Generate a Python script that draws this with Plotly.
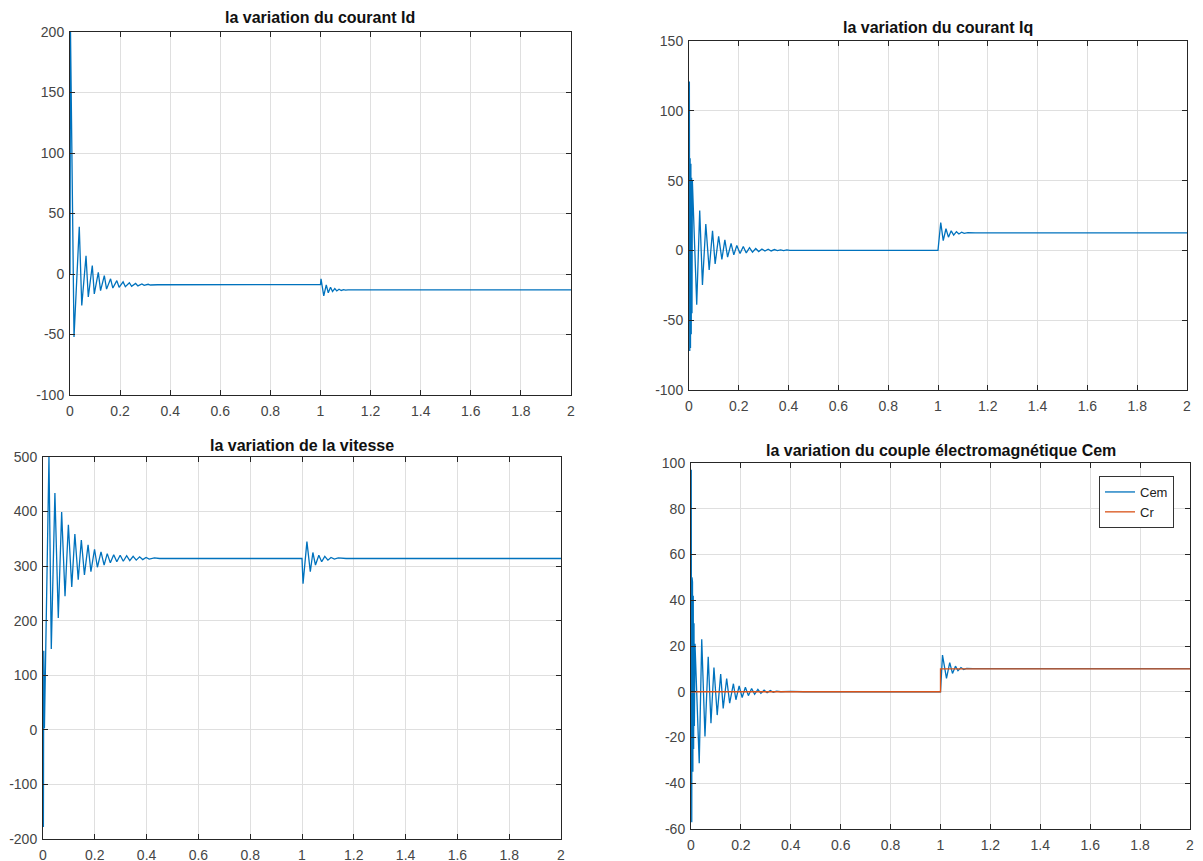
import plotly.graph_objects as go

# ---------------- data ----------------
# Id current
t_id = [0, 0.002, 0.016, 0.037, 0.047, 0.064, 0.073, 0.089, 0.097, 0.113, 0.122,
        0.137, 0.146, 0.162, 0.171, 0.187, 0.196, 0.212, 0.221, 0.237, 0.246,
        0.262, 0.271, 0.287, 0.296, 0.312, 0.321, 0.337, 0.35, 1.0, 1.002,
        1.013, 1.023, 1.031, 1.040, 1.048, 1.057, 1.065, 1.074, 1.083, 1.092,
        1.10, 1.11, 1.15, 2.0]
v_id = [0, 200, -52, 39, -26, 15, -19, 7, -16.5, 1.4, -13.7,
        -1.4, -12.5, -4, -11.6, -5.5, -11, -6.5, -10.5, -7.2, -10.2,
        -7.8, -9.8, -8.2, -9.4, -8.5, -9.1, -8.7, -8.9, -8.8, -4,
        -18, -9, -15.5, -11, -14.5, -12, -14, -12.6, -13.6, -12.9,
        -13.4, -13.1, -13.2, -13.2]

# Iq current
t_iq = [0, 0.0015, 0.003, 0.0045, 0.006, 0.0075, 0.009, 0.0105, 0.012, 0.0135,
        0.031, 0.043, 0.054, 0.0675, 0.081, 0.0945, 0.105, 0.119, 0.132, 0.144,
        0.155, 0.169, 0.18, 0.192, 0.205, 0.218, 0.23, 0.243, 0.255, 0.268,
        0.28, 0.293, 0.305, 0.318, 0.33, 0.343, 0.355, 0.368, 0.38, 0.393,
        0.405, 0.43, 0.45, 1.0, 1.011, 1.021, 1.032, 1.042, 1.053, 1.063,
        1.074, 1.084, 1.095, 1.105, 1.12, 1.15, 2.0]
v_iq = [0, 121, -72, 66, -70, 62, -60, 52, -45, 50,
        -39, 28.5, -24.7, 18.8, -14, 14, -9.7, 10, -6.4, 7.5,
        -4.8, 5, -3.2, 3.5, -2.2, 2.8, -1.8, 2, -1.2, 1.4,
        -0.8, 1.0, -0.5, 0.8, -0.4, 0.6, -0.2, 0.4, -0.1, 0.3,
        0, 0.2, 0, 0, 20, 7, 15.5, 9.5, 14, 11,
        13.4, 11.8, 13, 12.2, 12.7, 12.5, 12.5]

# speed
t_w = [0, 0.0015, 0.003, 0.0055, 0.023, 0.032, 0.046, 0.059, 0.072, 0.085,
       0.098, 0.111, 0.123, 0.136, 0.148, 0.160, 0.174, 0.185, 0.199, 0.21,
       0.224, 0.236, 0.248, 0.26, 0.273, 0.285, 0.298, 0.31, 0.323, 0.335,
       0.348, 0.36, 0.373, 0.385, 0.398, 0.41, 0.43, 0.45, 1.0, 1.004,
       1.019, 1.032, 1.042, 1.052, 1.065, 1.076, 1.088, 1.1, 1.112, 1.125,
       1.14, 1.17, 2.0]
v_w = [0, -178, 145, 3, 500, 148, 434, 205, 399, 245,
       376, 262, 359, 275, 348, 284, 339, 290, 331, 298,
       326, 302, 323, 306, 321, 308, 320, 309, 319, 310,
       318, 311, 317, 312, 316, 313, 315, 314, 314, 268,
       345, 290, 325, 302, 320, 308, 318, 311, 316, 313,
       315, 314, 314]

# electromagnetic torque
t_cem = [0, 0.001, 0.002, 0.003, 0.004, 0.005, 0.006, 0.0075, 0.009, 0.0105,
         0.012, 0.0135, 0.016, 0.033, 0.043, 0.056, 0.069, 0.08, 0.092, 0.105,
         0.119, 0.129, 0.143, 0.155, 0.17, 0.18, 0.193, 0.205, 0.218, 0.23,
         0.243, 0.255, 0.268, 0.28, 0.293, 0.305, 0.318, 0.33, 0.343, 0.36,
         0.4, 0.45, 1.0, 1.008, 1.024, 1.037, 1.048, 1.06, 1.07, 1.082,
         1.093, 1.105, 1.13, 2.0]
v_cem = [0, 97, -10, -57, 50, -50, 48, -35, 42, -25,
         30, -15, 21, -31.3, 22.9, -19.6, 15.3, -13.8, 10.6, -10.2,
         7.7, -7.3, 5.8, -5, 3.5, -3.5, 2.6, -2.5, 2, -1.7,
         1.4, -1.1, 1, -0.7, 0.7, -0.4, 0.5, -0.2, 0.3, 0,
         0.2, 0, 0, 16, 5.8, 12.7, 8, 11.2, 9.2, 10.6,
         9.7, 10.2, 10.1, 10.1]

# load torque
t_cr = [0, 1, 1, 2]
v_cr = [0, 0, 10, 10]

x_ticks = [0, 0.2, 0.4, 0.6, 0.8, 1, 1.2, 1.4, 1.6, 1.8, 2]
x_tick_text = ["0", "0.2", "0.4", "0.6", "0.8", "1", "1.2", "1.4", "1.6", "1.8", "2"]

titles = ["la variation du courant Id", "la variation du courant Iq",
          "la variation de la vitesse",
          "la variation du couple électromagnétique Cem"]

# ---------------- layout geometry ----------------
W, H = 1203, 861
OFF = 8  # page body margin offset
BLUE = "#0072BD"
ORANGE = "#D95319"
FONT = "Liberation Sans, Arial, sans-serif"

def px_x(x):
    return (x - OFF) / W

def px_y(y):
    return 1 - (y - OFF) / H

panels = [
    dict(l=70, r=571, t=32, b=395, yr=[-100, 200], dt=50, tx=320, ty=17),
    dict(l=689, r=1187, t=41, b=390, yr=[-100, 150], dt=50, tx=938, ty=27),
    dict(l=43, r=561, t=457, b=839, yr=[-200, 500], dt=100, tx=302, ty=445),
    dict(l=691, r=1190, t=463, b=829, yr=[-60, 100], dt=20, tx=941, ty=450),
]

fig = go.Figure()

series = [
    [(t_id, v_id, BLUE, "Id", False)],
    [(t_iq, v_iq, BLUE, "Iq", False)],
    [(t_w, v_w, BLUE, "vitesse", False)],
    [(t_cem, v_cem, BLUE, "Cem", True), (t_cr, v_cr, ORANGE, "Cr", True)],
]

tick_font = dict(family=FONT, size=14, color="#454545")

layout = dict(
    template="none",
    width=W, height=H, autosize=False,
    margin=dict(l=0, r=0, t=0, b=0, pad=0, autoexpand=False),
    paper_bgcolor="white", plot_bgcolor="white",
    showlegend=True,
    legend=dict(x=px_x(1099), y=px_y(476), xanchor="left", yanchor="top",
                bgcolor="white", bordercolor="#333333", borderwidth=1,
                font=dict(family=FONT, size=13, color="#222222"),
                tracegroupgap=0, itemwidth=30),
    annotations=[],
)

for i, p in enumerate(panels):
    k = "" if i == 0 else str(i + 1)
    xa = "x" + k
    ya = "y" + k
    for (tt, vv, col, name, show) in series[i]:
        fig.add_trace(go.Scatter(x=tt, y=vv, mode="lines", name=name,
                                 line=dict(color=col, width=1.3),
                                 showlegend=show, xaxis=xa, yaxis=ya))
    yt = list(range(p["yr"][0], p["yr"][1] + 1, p["dt"]))
    layout["xaxis" + k] = dict(
        domain=[px_x(p["l"]), px_x(p["r"])], anchor=ya, range=[0, 2],
        tickvals=x_ticks, ticktext=x_tick_text, ticks="inside", ticklen=5,
        tickcolor="#262626", showline=True, linecolor="#262626", linewidth=1,
        mirror="ticks", showgrid=True, gridcolor="#dfdfdf", gridwidth=1,
        zeroline=False, tickfont=tick_font, automargin=False,
        ticklabelstandoff=3,
    )
    layout["yaxis" + k] = dict(
        domain=[px_y(p["b"]), px_y(p["t"])], anchor=xa, range=p["yr"],
        tickvals=yt, ticktext=[str(v) for v in yt],
        ticks="inside", ticklen=5, tickcolor="#262626",
        showline=True, linecolor="#262626", linewidth=1, mirror="ticks",
        showgrid=True, gridcolor="#dfdfdf", gridwidth=1, zeroline=False,
        tickfont=tick_font, automargin=False, ticklabelstandoff=2,
    )
    layout["annotations"].append(dict(
        text="<b>" + titles[i] + "</b>", x=px_x(p["tx"]), y=px_y(p["ty"]),
        xref="paper", yref="paper", xanchor="center", yanchor="middle",
        showarrow=False,
        font=dict(family=FONT, size=16, color="#111111"),
    ))

fig.update_layout(**layout)
fig.write_html("out.html")
